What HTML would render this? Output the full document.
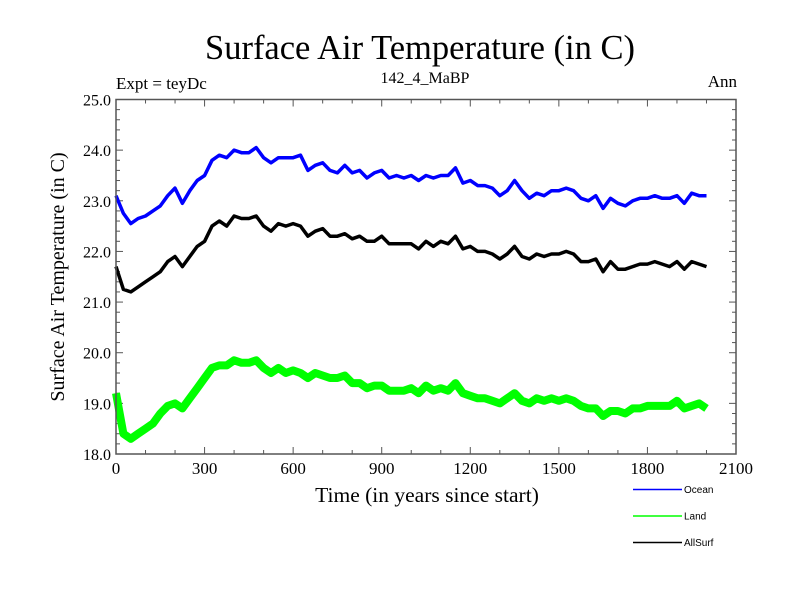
<!DOCTYPE html>
<html><head><meta charset="utf-8"><style>
body{margin:0;background:#fff;}
svg{display:block;font-family:"Liberation Serif",serif;}
</style></head><body>
<svg id="chart" width="800" height="600">
<text x="420" y="59" font-size="34.5" text-anchor="middle">Surface Air Temperature (in C)</text>
<text x="116" y="89" font-size="17">Expt = teyDc</text>
<text x="425" y="83" font-size="16" text-anchor="middle">142_4_MaBP</text>
<text x="737" y="87" font-size="17" text-anchor="end">Ann</text>
<text transform="translate(64,277) rotate(-90)" font-size="20" text-anchor="middle">Surface Air Temperature (in C)</text>
<text x="427" y="502" font-size="21.5" text-anchor="middle">Time (in years since start)</text>
<g id="ticks"></g>
<g id="series"></g>
<rect x="116" y="99.5" width="620" height="354.5" fill="none" stroke="#555" stroke-width="1.5"/>
<g id="legend" font-family="Liberation Sans,sans-serif" font-size="10"></g>
</svg>
<script>
const years=[];for(let i=0;i<=80;i++)years.push(i*25);
const ocean=[23.1,22.75,22.55,22.65,22.7,22.8,22.9,23.1,23.25,22.95,23.2,23.4,23.5,23.8,23.9,23.85,24.0,23.95,23.95,24.05,23.85,23.75,23.85,23.85,23.85,23.9,23.6,23.7,23.75,23.6,23.55,23.7,23.55,23.6,23.45,23.55,23.6,23.45,23.5,23.45,23.5,23.4,23.5,23.45,23.5,23.5,23.65,23.35,23.4,23.3,23.3,23.25,23.1,23.2,23.4,23.2,23.05,23.15,23.1,23.2,23.2,23.25,23.2,23.05,23.0,23.1,22.85,23.05,22.95,22.9,23.0,23.05,23.05,23.1,23.05,23.05,23.1,22.95,23.15,23.1,23.1];
const allsurf=[21.7,21.25,21.2,21.3,21.4,21.5,21.6,21.8,21.9,21.7,21.9,22.1,22.2,22.5,22.6,22.5,22.7,22.65,22.65,22.7,22.5,22.4,22.55,22.5,22.55,22.5,22.3,22.4,22.45,22.3,22.3,22.35,22.25,22.3,22.2,22.2,22.3,22.15,22.15,22.15,22.15,22.05,22.2,22.1,22.2,22.15,22.3,22.05,22.1,22.0,22.0,21.95,21.85,21.95,22.1,21.9,21.85,21.95,21.9,21.95,21.95,22.0,21.95,21.8,21.8,21.85,21.6,21.8,21.65,21.65,21.7,21.75,21.75,21.8,21.75,21.7,21.8,21.65,21.8,21.75,21.7];
const land=[19.2,18.4,18.3,18.4,18.5,18.6,18.8,18.95,19.0,18.9,19.1,19.3,19.5,19.7,19.75,19.75,19.85,19.8,19.8,19.85,19.7,19.6,19.7,19.6,19.65,19.6,19.5,19.6,19.55,19.5,19.5,19.55,19.4,19.4,19.3,19.35,19.35,19.25,19.25,19.25,19.3,19.2,19.35,19.25,19.3,19.25,19.4,19.2,19.15,19.1,19.1,19.05,19.0,19.1,19.2,19.05,19.0,19.1,19.05,19.1,19.05,19.1,19.05,18.95,18.9,18.9,18.75,18.85,18.85,18.8,18.9,18.9,18.95,18.95,18.95,18.95,19.05,18.9,18.95,19.0,18.9];
const xTicks=[0,300,600,900,1200,1500,1800,2100];
const yTicks=[18.0,19.0,20.0,21.0,22.0,23.0,24.0,25.0];
const seriesNames=["Ocean","Land","AllSurf"];
const seriesColors=["#0000ff","#00ff00","#000000"];
const NS="http://www.w3.org/2000/svg";
const X0=116,X1=736,Y0=454,Y1=99.5;
function sx(v){return X0+(v-0)/(2100-0)*(X1-X0);}
function sy(v){return Y0-(v-18)/(25-18)*(Y0-Y1);}
function mk(tag,attrs,parent){const e=document.createElementNS(NS,tag);for(const k in attrs)e.setAttribute(k,attrs[k]);parent.appendChild(e);return e;}
const tg=document.getElementById('ticks');
for(let v=0;v<=2100;v+=100){const big=v%300===0;const L=big?7:4;
 const t1=mk('line',{x1:sx(v),x2:sx(v),y1:Y0,y2:Y0-L,stroke:'#555'},tg);
 
 
 const t2=mk('line',{x1:sx(v),x2:sx(v),y1:Y1,y2:Y1+L,stroke:'#555'},tg);
 
 }
for(let i=0;i<=35;i++){const v=18+i*0.2;const big=i%5===0;const L=big?7:4;
 const t1=mk('line',{x1:X0,x2:X0+L,y1:sy(v),y2:sy(v),stroke:'#555'},tg);
 
 
 const t2=mk('line',{x1:X1,x2:X1-L,y1:sy(v),y2:sy(v),stroke:'#555'},tg);
 
 }
xTicks.forEach(v=>{const t=mk('text',{x:sx(v),y:Y0+20,'font-size':17,'text-anchor':'middle'},tg);t.textContent=v;
 
 });
yTicks.forEach(v=>{const t=mk('text',{x:X0-5,y:sy(v)+6,'font-size':16,'text-anchor':'end'},tg);t.textContent=v.toFixed(1);
 
 });
const sg=document.getElementById('series');
const data=[ocean,land,allsurf];const widths=[3.5,8,3.5];
data.forEach((arr,k)=>{const d=arr.map((v,i)=>(i?'L':'M')+sx(years[i]).toFixed(1)+','+sy(v).toFixed(1)).join('');
 const p=mk('path',{d:d,fill:'none',stroke:seriesColors[k],'stroke-width':widths[k],'stroke-linejoin':'round'},sg);
 
 });
const lg=document.getElementById('legend');
seriesNames.forEach((n,k)=>{const y=489.5+k*26.5;
 const l=mk('line',{x1:633,x2:682,y1:y,y2:y,stroke:seriesColors[k],'stroke-width':1.5},lg);
 
 
 const t=mk('text',{x:684,y:y+3.5},lg);t.textContent=n;
 
 });
</script>
</body></html>
